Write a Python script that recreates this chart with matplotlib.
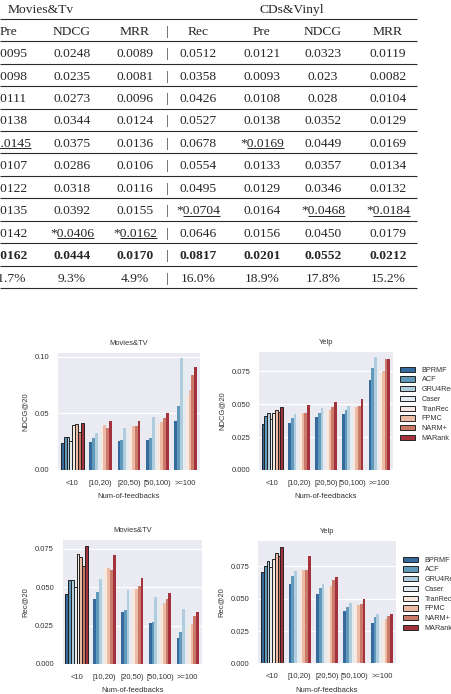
import numpy as np
import matplotlib
matplotlib.use("Agg")
import matplotlib.pyplot as plt
import seaborn as sns

# ---------------- table data ----------------
group_titles = ["Movies&Tv", "CDs&Vinyl"]
table_headers = ["Pre", "NDCG", "MRR", "Rec", "Pre", "NDCG", "MRR"]
mov_pre = ["0.0095", "0.0098", "0.0111", "0.0138", "*0.0145", "0.0107", "0.0122", "0.0135", "0.0142", "0.0162", "11.7%"]
mov_ndcg = ["0.0248", "0.0235", "0.0273", "0.0344", "0.0375", "0.0286", "0.0318", "0.0392", "*0.0406", "0.0444", "9.3%"]
mov_mrr = ["0.0089", "0.0081", "0.0096", "0.0124", "0.0136", "0.0106", "0.0116", "0.0155", "*0.0162", "0.0170", "4.9%"]
cd_rec = ["0.0512", "0.0358", "0.0426", "0.0527", "0.0678", "0.0554", "0.0495", "*0.0704", "0.0646", "0.0817", "16.0%"]
cd_pre = ["0.0121", "0.0093", "0.0108", "0.0138", "*0.0169", "0.0133", "0.0129", "0.0164", "0.0156", "0.0201", "18.9%"]
cd_ndcg = ["0.0323", "0.023", "0.028", "0.0352", "0.0449", "0.0357", "0.0346", "*0.0468", "0.0450", "0.0552", "17.8%"]
cd_mrr = ["0.0119", "0.0082", "0.0104", "0.0129", "0.0169", "0.0134", "0.0132", "*0.0184", "0.0179", "0.0212", "15.2%"]
bold_row = 9

# ---------------- chart data ----------------
groups = ["<10", "[10,20)", "[20,50)", "[50,100)", ">=100"]
methods = ["BPRMF", "ACF", "GRU4Rec", "Caser", "TranRec", "FPMC", "NARM+", "MARank"]

ndcg_movies = [
    [0.0236, 0.0246, 0.0258, 0.0262, 0.0432],
    [0.0289, 0.0280, 0.0265, 0.0280, 0.0565],
    [0.0289, 0.0330, 0.0373, 0.0467, 0.0986],
    [0.0260, 0.0300, 0.0340, 0.0420, 0.0880],
    [0.0400, 0.0380, 0.0380, 0.0410, 0.0650],
    [0.0405, 0.0400, 0.0388, 0.0424, 0.0705],
    [0.0338, 0.0367, 0.0392, 0.0456, 0.0838],
    [0.0419, 0.0436, 0.0436, 0.0500, 0.0912],
]
ndcg_yelp = [
    [0.0352, 0.0358, 0.0406, 0.0425, 0.0686],
    [0.0410, 0.0395, 0.0435, 0.0460, 0.0775],
    [0.0430, 0.0428, 0.0471, 0.0485, 0.0857],
    [0.0385, 0.0400, 0.0440, 0.0460, 0.0800],
    [0.0436, 0.0432, 0.0458, 0.0476, 0.0720],
    [0.0455, 0.0436, 0.0460, 0.0478, 0.0752],
    [0.0443, 0.0437, 0.0480, 0.0490, 0.0844],
    [0.0480, 0.0498, 0.0517, 0.0541, 0.0845],
]
rec_movies = [
    [0.0458, 0.0422, 0.0336, 0.0265, 0.0170],
    [0.0545, 0.0472, 0.0352, 0.0276, 0.0207],
    [0.0546, 0.0552, 0.0483, 0.0439, 0.0358],
    [0.0504, 0.0500, 0.0440, 0.0400, 0.0320],
    [0.0715, 0.0635, 0.0490, 0.0380, 0.0250],
    [0.0700, 0.0628, 0.0491, 0.0398, 0.0261],
    [0.0639, 0.0611, 0.0509, 0.0425, 0.0314],
    [0.0770, 0.0711, 0.0561, 0.0465, 0.0336],
]
rec_yelp = [
    [0.0705, 0.0616, 0.0534, 0.0408, 0.0313],
    [0.0751, 0.0673, 0.0583, 0.0436, 0.0360],
    [0.0792, 0.0715, 0.0616, 0.0467, 0.0382],
    [0.0745, 0.0680, 0.0580, 0.0440, 0.0350],
    [0.0810, 0.0719, 0.0590, 0.0450, 0.0330],
    [0.0852, 0.0719, 0.0596, 0.0455, 0.0340],
    [0.0833, 0.0722, 0.0647, 0.0462, 0.0365],
    [0.0904, 0.0833, 0.0670, 0.0499, 0.0385],
]
ticks_ndcg_movies = [0.0, 0.05, 0.10]
ticks_other = [0.0, 0.025, 0.050, 0.075]

# ---------------- style ----------------
sns.set_style("darkgrid")
plt.rcParams["font.family"] = ["Liberation Sans", "DejaVu Sans"]
TXT = "#333333"
colors = [sns.desaturate(c, 0.75) for c in sns.color_palette("RdBu_r", 8)]

W, H = 452, 694
fig = plt.figure(figsize=(W / 100, H / 100), dpi=100)


def axes_px(l, t, r, b):
    return fig.add_axes([l / W, 1 - b / H, (r - l) / W, (b - t) / H])


# ---------------- table ----------------
tab = fig.add_axes([0, 0, 1, 1])
tab.set_xlim(0, W)
tab.set_ylim(H, 0)
tab.axis("off")

serif = ["Liberation Serif", "DejaVu Serif"]
TFS = 9.7
col_x = [9, 72, 135, 198, 262, 323, 388]
sep_x = 167
header_y = 30.0
row_step = 22.45
base_off = 4.6

tab.text(41, 8 + base_off, group_titles[0], ha="center", va="baseline", family=serif, fontsize=TFS)
tab.text(292, 8 + base_off, group_titles[1], ha="center", va="baseline", family=serif, fontsize=TFS)
for cx, h in zip(col_x, table_headers):
    tab.text(cx, header_y + base_off, h, ha="center", va="baseline", family=serif, fontsize=TFS)
tab.text(sep_x, header_y + base_off, "|", ha="center", va="baseline", family=serif, fontsize=TFS)

columns = [mov_pre, mov_ndcg, mov_mrr, cd_rec, cd_pre, cd_ndcg, cd_mrr]
underlined = []
n_rows = len(mov_pre)
for r in range(n_rows):
    yb = header_y + row_step * (r + 1) + base_off
    weight = "bold" if r == bold_row else "normal"
    for cx, col in zip(col_x, columns):
        t = tab.text(cx, yb, col[r], ha="center", va="baseline", family=serif,
                     fontsize=TFS, fontweight=weight)
        if col[r].startswith("*"):
            underlined.append((t, yb))
    tab.text(sep_x, yb, "|", ha="center", va="baseline", family=serif, fontsize=TFS)

line_ys = [19] + [header_y + row_step * (k + 0.5) for k in range(n_rows + 1)]
for ly in line_ys:
    tab.plot([0, 417], [ly, ly], color="#2a2a2a", lw=0.8, solid_capstyle="butt")

# ---------------- charts ----------------
x = np.arange(len(groups))
bw = 0.8 / len(methods)
CFS = 5.5


def draw_chart(ax, data, title, ylabel, yticks, fmt):
    ax.set_facecolor("#EAEAF2")
    for i, (m, vals) in enumerate(zip(methods, data)):
        bars = ax.bar(x - 0.4 + bw * (i + 0.5), vals, bw, color=colors[i], label=m, linewidth=0)
        bars[0].set_edgecolor("#222222")
        bars[0].set_linewidth(0.7)
    ax.set_xlim(-0.5, len(groups) - 0.5)
    ax.set_xticks(x)
    ax.set_xticklabels(groups)
    ax.set_yticks(yticks)
    ax.set_yticklabels([fmt.format(v) for v in yticks])
    ax.xaxis.grid(False)
    ax.yaxis.grid(True, color="white", lw=0.9)
    ax.set_axisbelow(True)
    for s in ax.spines.values():
        s.set_visible(False)
    ax.tick_params(axis="y", length=0, pad=6.2, labelsize=CFS, colors=TXT)
    ax.tick_params(axis="x", length=0, pad=7.2, labelsize=CFS, colors=TXT)
    ax.set_title(title, fontsize=5.4, color=TXT, pad=5.5)
    ax.set_xlabel("Num-of-feedbacks", fontsize=CFS, color=TXT, labelpad=4.6)
    ax.set_ylabel(ylabel, fontsize=CFS, color=TXT, labelpad=4.4)


ax1 = axes_px(58, 352.7, 200, 470)
draw_chart(ax1, ndcg_movies, "Movies&TV", "NDCG@20", ticks_ndcg_movies, "{:.2f}")
ax2 = axes_px(259, 351.7, 392.7, 470)
draw_chart(ax2, ndcg_yelp, "Yelp", "NDCG@20", ticks_other, "{:.3f}")
ax3 = axes_px(62.7, 540, 201.7, 664)
draw_chart(ax3, rec_movies, "Movies&TV", "Rec@20", ticks_other, "{:.3f}")
ax4 = axes_px(258.3, 540.7, 395.7, 663.3)
draw_chart(ax4, rec_yelp, "Yelp", "Rec@20", ticks_other, "{:.3f}")

leg_kw = dict(loc="upper left", frameon=False, fontsize=5.2, handlelength=2.08,
              handleheight=0.75, handletextpad=0.93, labelspacing=0.36,
              borderpad=0, borderaxespad=0, labelcolor=TXT)
h2, l2 = ax2.get_legend_handles_labels()
fig.legend(h2, l2, bbox_to_anchor=(400 / W, 1 - 366.5 / H), **leg_kw)
h4, l4 = ax4.get_legend_handles_labels()
fig.legend(h4, l4, bbox_to_anchor=(403 / W, 1 - 556.5 / H), **leg_kw)

# underlines for starred table entries
fig.canvas.draw()
renderer = fig.canvas.get_renderer()
inv = tab.transData.inverted()
for t, yb in underlined:
    bb = t.get_window_extent(renderer)
    star = tab.text(0, 0, "*", family=serif, fontsize=TFS)
    sw = star.get_window_extent(renderer).width
    star.remove()
    x0 = inv.transform((bb.x0 + sw, 0))[0]
    x1 = inv.transform((bb.x1, 0))[0]
    tab.plot([x0, x1], [yb + 1.6, yb + 1.6], color="black", lw=0.6, solid_capstyle="butt")

fig.savefig("out.png", dpi=100)
